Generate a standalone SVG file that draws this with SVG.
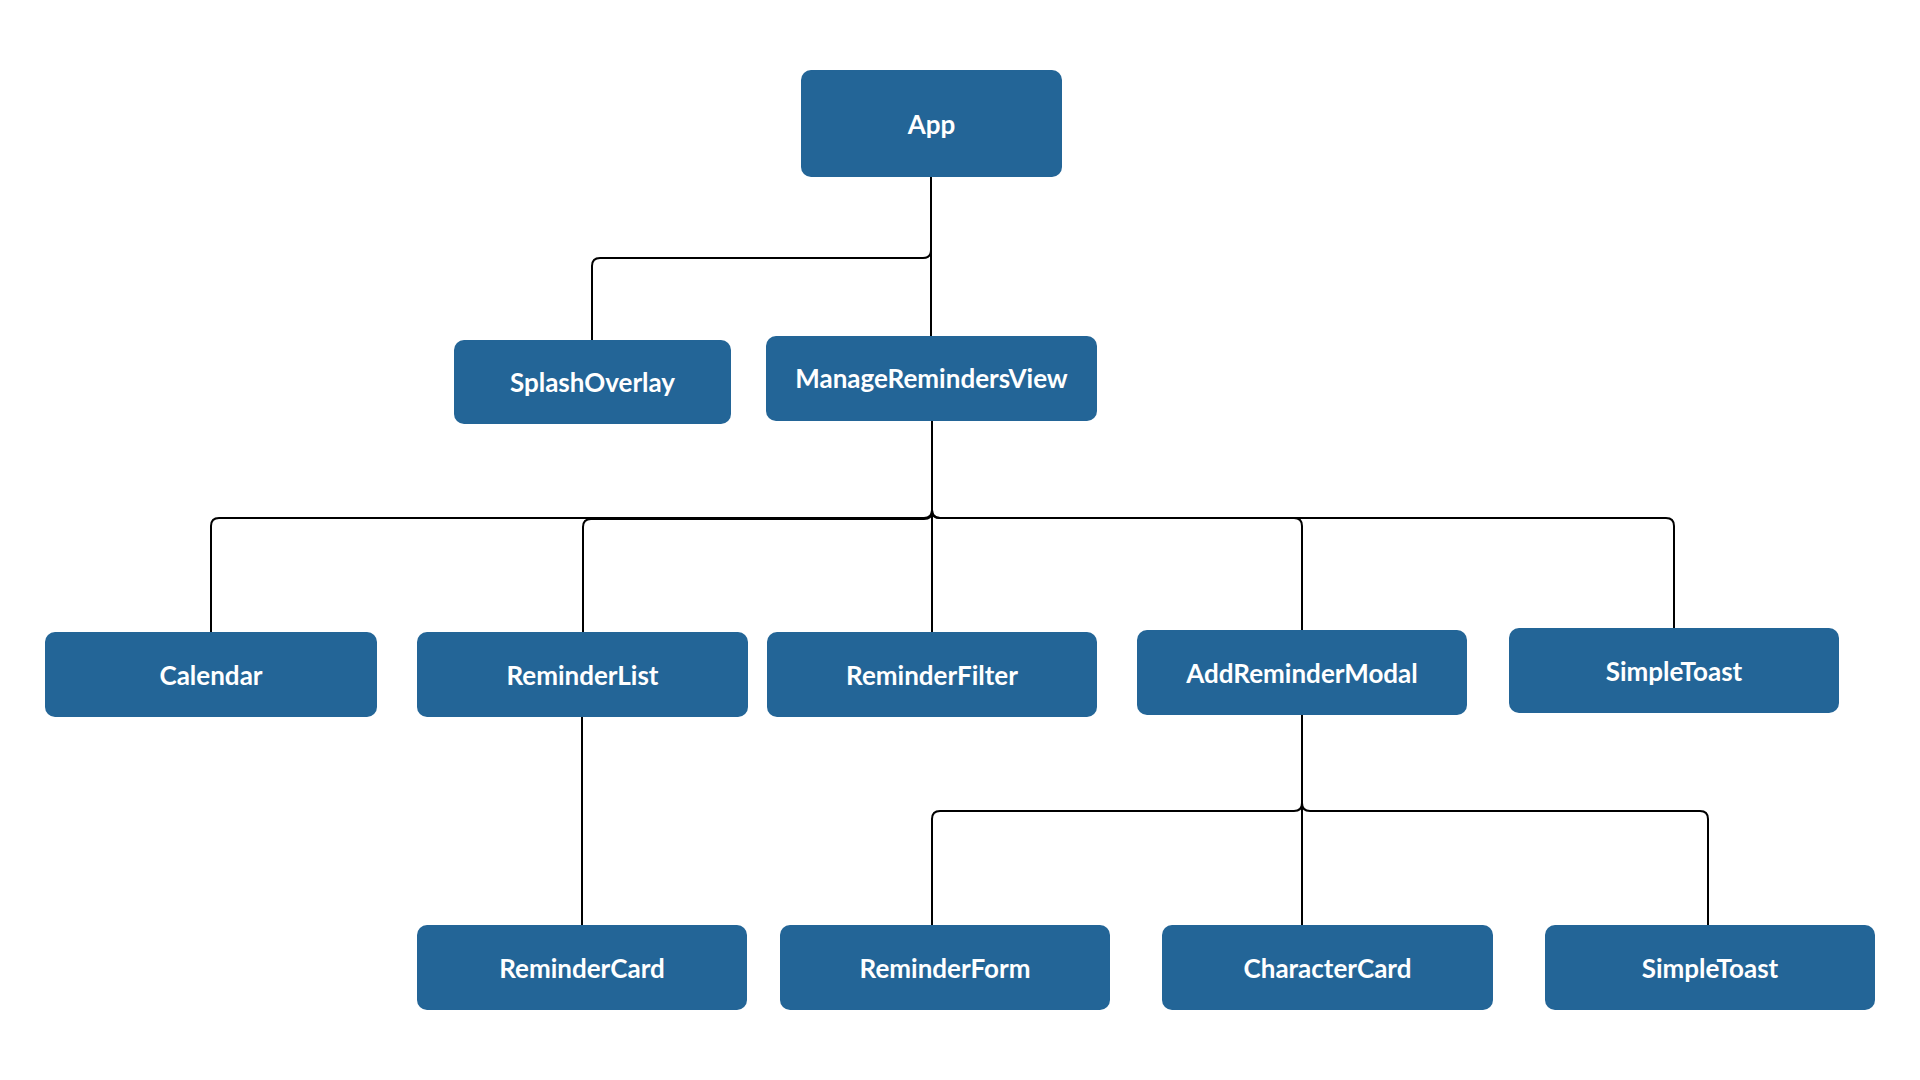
<svg xmlns="http://www.w3.org/2000/svg" width="1920" height="1080" viewBox="0 0 1920 1080">
<style>
.box{fill:#236597;}
.lbl{fill:#ffffff;font-family:Lato,"Open Sans",sans-serif;font-weight:700;font-size:26px;text-anchor:middle;dominant-baseline:central;}
.conn{fill:none;stroke:#000000;stroke-width:2;}
</style>
<rect width="1920" height="1080" fill="#ffffff"/>
<g id="connectors">
<path class="conn" d="M931,177 V250 Q931,258 923,258 H600 Q592,258 592,266 V340"/>
<path class="conn" d="M931,177 V336"/>
<path class="conn" d="M932,421 V510 Q932,518 924,518 H219 Q211,518 211,526 V632"/>
<path class="conn" d="M932,421 V511 Q932,519 924,519 H591 Q583,519 583,527 V632"/>
<path class="conn" d="M932,421 V632"/>
<path class="conn" d="M932,421 V510 Q932,518 940,518 H1294 Q1302,518 1302,526 V630"/>
<path class="conn" d="M932,421 V510 Q932,518 940,518 H1666 Q1674,518 1674,526 V628"/>
<path class="conn" d="M582,717 V925"/>
<path class="conn" d="M1302,715 V803 Q1302,811 1294,811 H940 Q932,811 932,819 V925"/>
<path class="conn" d="M1302,715 V925"/>
<path class="conn" d="M1302,715 V803 Q1302,811 1310,811 H1700 Q1708,811 1708,819 V925"/>
</g>
<g id="node-app"><rect class="box" x="801" y="70" width="261" height="107" rx="10"/><text class="lbl" x="931.5" y="123.5">App</text></g>
<g id="node-splashoverlay"><rect class="box" x="454" y="340" width="277" height="84" rx="10"/><text class="lbl" x="592.5" y="382">SplashOverlay</text></g>
<g id="node-managereminders"><rect class="box" x="766" y="336" width="331" height="85" rx="10"/><text class="lbl" x="931.5" y="378">ManageRemindersView</text></g>
<g id="node-calendar"><rect class="box" x="45" y="632" width="332" height="85" rx="10"/><text class="lbl" x="211" y="674.5">Calendar</text></g>
<g id="node-reminderlist"><rect class="box" x="417" y="632" width="331" height="85" rx="10"/><text class="lbl" x="582.5" y="674.5">ReminderList</text></g>
<g id="node-reminderfilter"><rect class="box" x="767" y="632" width="330" height="85" rx="10"/><text class="lbl" x="932" y="674.5">ReminderFilter</text></g>
<g id="node-addremindermodal"><rect class="box" x="1137" y="630" width="330" height="85" rx="10"/><text class="lbl" x="1302" y="672.5">AddReminderModal</text></g>
<g id="node-simpletoast1"><rect class="box" x="1509" y="628" width="330" height="85" rx="10"/><text class="lbl" x="1674" y="670.5">SimpleToast</text></g>
<g id="node-remindercard"><rect class="box" x="417" y="925" width="330" height="85" rx="10"/><text class="lbl" x="582" y="967.5">ReminderCard</text></g>
<g id="node-reminderform"><rect class="box" x="780" y="925" width="330" height="85" rx="10"/><text class="lbl" x="945" y="967.5">ReminderForm</text></g>
<g id="node-charactercard"><rect class="box" x="1162" y="925" width="331" height="85" rx="10"/><text class="lbl" x="1327.5" y="967.5">CharacterCard</text></g>
<g id="node-simpletoast2"><rect class="box" x="1545" y="925" width="330" height="85" rx="10"/><text class="lbl" x="1710" y="967.5">SimpleToast</text></g>
</svg>
